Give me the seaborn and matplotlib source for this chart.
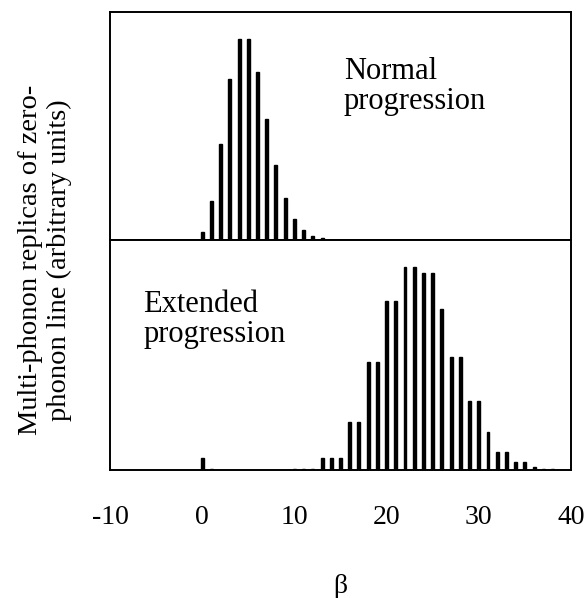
import numpy as np
import pandas as pd
import matplotlib
matplotlib.use("Agg")
import matplotlib.pyplot as plt
import seaborn as sns

sns.set_style("white")
plt.rcParams['font.family'] = ['Liberation Serif', 'DejaVu Serif']
plt.rcParams['text.color'] = 'black'
plt.rcParams['axes.labelcolor'] = 'black'
plt.rcParams['xtick.color'] = 'black'

# normal progression (beta 0..13), arbitrary units
beta_normal = list(range(0, 14))
inten_normal = [8, 39, 96, 160, 200, 200, 167, 120, 75, 42, 21, 10, 4, 2]

# extended progression (beta 0..38)
beta_ext = list(range(0, 39))
inten_ext = [12, 1, 0, 0, 0, 0, 0, 0, 0, 0,
             1, 1, 1, 12, 12, 12, 48, 48, 108, 108,
             169, 169, 203, 203, 197, 197, 161, 113, 113, 69,
             69, 38, 18, 18, 8, 8, 3, 1, 1]

xticks = [-10, 0, 10, 20, 30, 40]

df_n = pd.DataFrame({'beta': beta_normal, 'I': inten_normal})
df_e = pd.DataFrame({'beta': beta_ext, 'I': inten_ext})

fig = plt.figure(figsize=(5.85, 5.98), dpi=100)
ax1 = fig.add_axes([0.188, 0.5987, 0.788, 0.3813])
ax2 = fig.add_axes([0.188, 0.214, 0.788, 0.3847])

sns.barplot(data=df_n, x='beta', y='I', native_scale=True, width=0.32,
            color='black', edgecolor='black', linewidth=1.0,
            errorbar=None, ax=ax1, saturation=1)
sns.barplot(data=df_e, x='beta', y='I', native_scale=True, width=0.32,
            color='black', edgecolor='black', linewidth=1.0,
            errorbar=None, ax=ax2, saturation=1)

for ax, top in [(ax1, 227), (ax2, 230)]:
    ax.set_xlim(-10, 40)
    ax.set_ylim(0, top)
    ax.set_yticks([])
    ax.set_xlabel('')
    ax.set_ylabel('')
    for s in ax.spines.values():
        s.set_color('black')
        s.set_linewidth(1.4)
        s.set_visible(True)

ax1.set_xticks([])
ax2.set_xticks(xticks)
ax2.set_xticklabels([str(t) for t in xticks], fontsize=20, color='black')
ax2.tick_params(axis='x', length=0, pad=25)
ax2.set_xlabel('β', fontsize=20, labelpad=32, color='black')

ax1.text(0.507, 0.675, 'Normal\nprogression', transform=ax1.transAxes,
         fontsize=22, va='center', ha='left', linespacing=1.05, color='black')
ax2.text(0.072, 0.655, 'Extended\nprogression', transform=ax2.transAxes,
         fontsize=22, va='center', ha='left', linespacing=1.05, color='black')

fig.text(0.077, 0.565, 'Multi-phonon replicas of zero-\nphonon line (arbitrary units)',
         rotation=90, fontsize=20.5, ha='center', va='center', linespacing=1.2,
         color='black')

fig.savefig('out.png', dpi=100)
